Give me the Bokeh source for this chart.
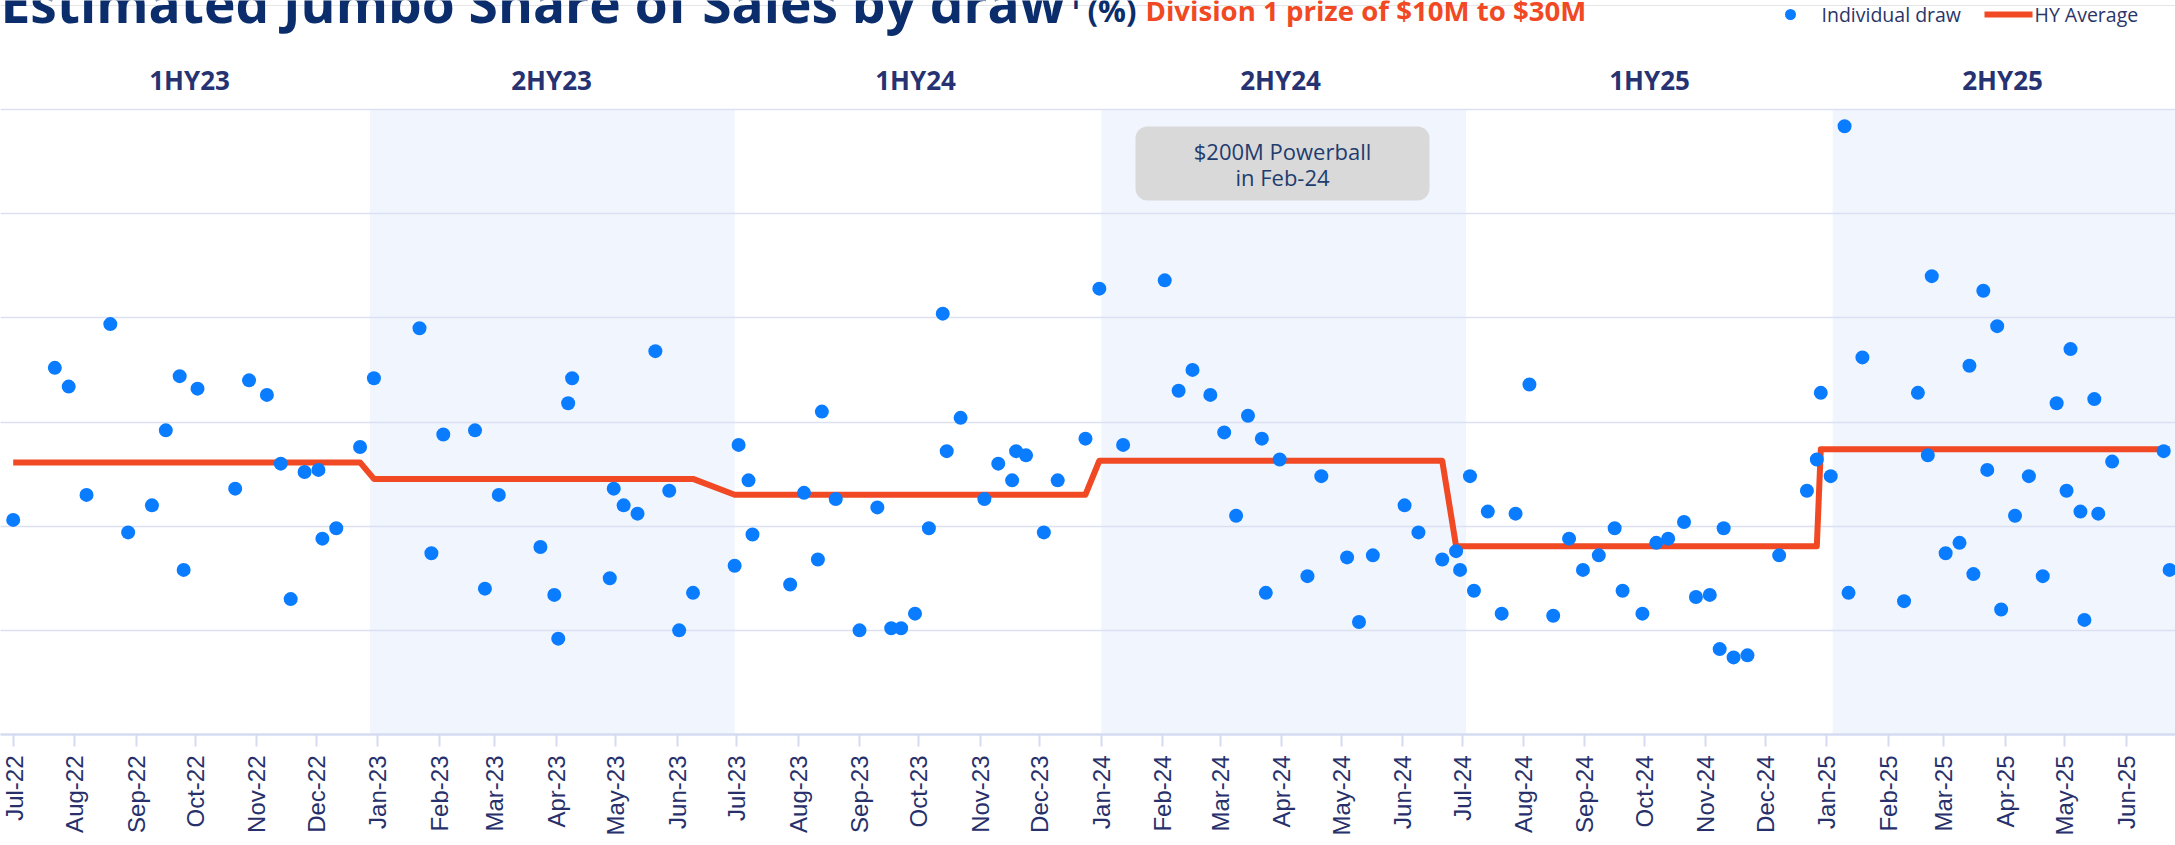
import numpy as np
import pandas as pd
from bokeh.plotting import figure
from bokeh.models import (Range1d, BoxAnnotation, Grid, FixedTicker, MonthsTicker,
                          DatetimeTickFormatter, ColumnDataSource)
from bokeh.core.properties import value
from bokeh.embed import file_html
from bokeh.resources import INLINE

# ---------------- data ----------------
draw_dates = [
    # 1HY23
    "2022-07-01", "2022-07-22", "2022-07-29", "2022-08-07", "2022-08-19", "2022-08-28", "2022-09-09",
    "2022-09-16", "2022-09-23", "2022-09-25", "2022-10-02", "2022-10-21", "2022-10-28", "2022-11-06",
    "2022-11-13", "2022-11-18", "2022-11-25", "2022-12-02", "2022-12-04", "2022-12-11", "2022-12-23",
    # 2HY23
    "2022-12-30", "2023-01-22", "2023-01-28", "2023-02-03", "2023-02-19", "2023-02-24", "2023-03-03",
    "2023-03-24", "2023-03-31", "2023-04-02", "2023-04-07", "2023-04-09", "2023-04-28", "2023-04-30",
    "2023-05-05", "2023-05-12", "2023-05-21", "2023-05-28", "2023-06-02", "2023-06-09",
    # 1HY24
    "2023-06-30", "2023-07-02", "2023-07-07", "2023-07-09", "2023-07-28", "2023-08-04", "2023-08-11",
    "2023-08-13", "2023-08-20", "2023-09-01", "2023-09-10", "2023-09-17", "2023-09-22", "2023-09-29",
    "2023-10-06", "2023-10-13", "2023-10-15", "2023-10-22", "2023-11-03", "2023-11-10", "2023-11-17",
    "2023-11-19", "2023-11-24", "2023-12-03", "2023-12-10", "2023-12-24",
    # 2HY24
    "2023-12-31", "2024-01-12", "2024-02-02", "2024-02-09", "2024-02-16", "2024-02-25", "2024-03-03",
    "2024-03-09", "2024-03-15", "2024-03-22", "2024-03-24", "2024-03-31", "2024-04-14", "2024-04-21",
    "2024-05-04", "2024-05-10", "2024-05-17", "2024-06-02", "2024-06-09", "2024-06-21",
    # 1HY25
    "2024-06-28", "2024-06-30", "2024-07-05", "2024-07-07", "2024-07-14", "2024-07-21", "2024-07-28",
    "2024-08-04", "2024-08-16", "2024-08-24", "2024-08-31", "2024-09-08", "2024-09-16", "2024-09-20",
    "2024-09-30", "2024-10-07", "2024-10-13", "2024-10-21", "2024-10-27", "2024-11-03", "2024-11-08",
    "2024-11-10", "2024-11-15", "2024-11-22", "2024-12-08", "2024-12-22", "2024-12-27",
    # 2HY25
    "2024-12-29", "2025-01-03", "2025-01-10", "2025-01-12", "2025-01-19", "2025-02-09", "2025-02-16",
    "2025-02-21", "2025-02-23", "2025-03-02", "2025-03-09", "2025-03-14", "2025-03-16", "2025-03-21",
    "2025-03-23", "2025-03-28", "2025-03-30", "2025-04-06", "2025-04-13", "2025-04-20", "2025-04-27",
    "2025-05-02", "2025-05-04", "2025-05-09", "2025-05-11", "2025-05-16", "2025-05-18", "2025-05-25",
    "2025-06-20", "2025-06-23",
]

draw_share = [
    # 1HY23
    10.3, 17.6, 16.7, 11.5, 19.7, 9.7, 11.0, 14.6, 17.2, 7.9, 16.6, 11.8, 17.0, 16.3, 13.0, 6.5,
    12.6, 12.7, 9.4, 9.9, 13.8,
    # 2HY23
    17.1, 19.5, 8.7, 14.4, 14.6, 7.0, 11.5, 9.0, 6.7, 4.6, 15.9, 17.1, 7.5, 11.8, 11.0, 10.6,
    18.4, 11.7, 5.0, 6.8,
    # 1HY24
    8.1, 13.9, 12.2, 9.6, 7.2, 11.6, 8.4, 15.5, 11.3, 5.0, 10.9, 5.1, 5.1, 5.8, 9.9, 20.2, 13.6,
    15.2, 11.3, 13.0, 12.2, 13.6, 13.4, 9.7, 12.2, 14.2,
    # 2HY24
    21.4, 13.9, 21.8, 16.5, 17.5, 16.3, 14.5, 10.5, 15.3, 14.2, 6.8, 13.2, 7.6, 12.4, 8.5, 5.4,
    8.6, 11.0, 9.7, 8.4,
    # 1HY25
    8.8, 7.9, 12.4, 6.9, 10.7, 5.8, 10.6, 16.8, 5.7, 9.4, 7.9, 8.6, 9.9, 6.9, 5.8, 9.2, 9.4, 10.2,
    6.6, 6.7, 4.1, 9.9, 3.7, 3.8, 8.6, 11.7, 13.2,
    # 2HY25
    16.4, 12.4, 29.2, 6.8, 18.1, 6.4, 16.4, 13.4, 22.0, 8.7, 9.2, 17.7, 7.7, 21.3, 12.7, 19.6,
    6.0, 10.5, 12.4, 7.6, 15.9, 11.7, 18.5, 10.7, 5.5, 16.1, 10.6, 13.1, 13.6, 7.9,
]

hy_labels = ["1HY23", "2HY23", "1HY24", "2HY24", "1HY25", "2HY25"]
hy_draw_counts = [21, 20, 26, 20, 27, 30]
hy_average = [13.06, 12.27, 11.51, 13.14, 9.04, 13.69]

shaded_periods = [("2022-12-28", "2023-06-30"), ("2024-01-01", "2024-07-03"), ("2025-01-04", None)]

# ---------------- layout helpers (page pixels; canvas starts at page 0,0) ----------------
W, H = 2175, 845
AXIS_PAGE_Y = 734
BOTTOM = H - AXIS_PAGE_Y
PX_PER_DAY = 1.982
PX_PER_UNIT = 20.833
t0 = pd.Timestamp("2022-07-01") - pd.Timedelta(days=12.7 / PX_PER_DAY)
t1 = t0 + pd.Timedelta(days=W / PX_PER_DAY)
y_top = AXIS_PAGE_Y / PX_PER_UNIT


def px_x(px):
    return t0 + pd.Timedelta(days=px / PX_PER_DAY)


def px_y(py):
    return (AXIS_PAGE_Y - py) / PX_PER_UNIT


def ms(t):
    return pd.Timestamp(t).value / 1e6


NAVY = "#0b2d6b"
LABEL_NAVY = "#27306b"
BLUE = "#0a7cff"
RED = "#f04923"

# ---------------- derived table ----------------
dates = pd.to_datetime(draw_dates)
half = np.repeat(hy_labels, hy_draw_counts)
avg_map = dict(zip(hy_labels, hy_average))
src = ColumnDataSource(dict(date=dates, share=draw_share, half=half,
                            avg=[avg_map[h] for h in half]))

p = figure(width=W, height=H, x_axis_type="datetime", y_axis_location=None,
           x_range=Range1d(ms(t0), ms(t1)), y_range=Range1d(0, y_top),
           output_backend="svg", toolbar_location=None,
           min_border_left=0, min_border_right=0, min_border_top=0, min_border_bottom=BOTTOM)
p.outline_line_color = None
p.background_fill_color = "white"
p.border_fill_color = "white"
p.xgrid.visible = False

# shaded 2nd-half bands
for s, e in shaded_periods:
    p.add_layout(BoxAnnotation(left=ms(s), right=ms(e) if e else ms(t1), bottom=0, top=30,
                               fill_color="#f0f5fe", fill_alpha=1.0, line_color=None, level="image"))

p.add_layout(Grid(dimension=1, ticker=FixedTicker(ticks=[5, 10, 15, 20, 25, 30]),
                  grid_line_color="#dbe1f3", grid_line_width=1.6))

# x axis
ax = p.xaxis[0]
ax.ticker = MonthsTicker(months=list(range(12)))
ax.formatter = DatetimeTickFormatter(days="%b-%y", months="%b-%y", years="%b-%y")
ax.major_label_orientation = np.pi / 2
ax.major_label_text_font = "Liberation Sans"
ax.major_label_text_font_size = "24px"
ax.major_label_text_color = LABEL_NAVY
ax.axis_line_color = "#d5dcf2"
ax.axis_line_width = 2.5
ax.major_tick_line_color = "#d5dcf2"
ax.major_tick_line_width = 2
ax.major_tick_in = 0
ax.major_tick_out = 12
ax.minor_tick_line_color = None
ax.major_label_standoff = 9

# annotation box
p.add_layout(BoxAnnotation(left=ms(px_x(1135)), right=ms(px_x(1429)), top=px_y(126), bottom=px_y(200),
                           fill_color="#d9d9d9", fill_alpha=1.0, line_color=None,
                           border_radius=12, level="underlay"))
p.text(x=[px_x(1282), px_x(1282)], y=[px_y(150), px_y(176)],
       text=["$200M Powerball", "in Feb-24"], text_font=value("Open Sans"),
       text_font_size=value("22px"), text_color="#1f3c6e",
       text_align=value("center"), text_baseline=value("middle"))

# data
p.line(x="date", y="avg", source=src, line_color=RED, line_width=6, line_join="round")
p.scatter(x="date", y="share", source=src, size=14, fill_color=BLUE, line_color=None)

# half-year labels (centred over each half-year column)
hy_label_px = [189, 551, 915, 1280, 1649, 2002]
p.text(x=[px_x(v) for v in hy_label_px], y=[px_y(79)] * len(hy_labels), text=hy_labels,
       text_font=value("Open Sans"), text_font_size=value("26px"), text_font_style=value("bold"),
       text_color="#263272", text_align=value("center"), text_baseline=value("middle"))

# title (partly cut off at the top as in the original)
title_style = dict(text_font=value("Open Sans"), text_font_style=value("bold"),
                   text_align=value("left"), text_baseline=value("middle"))
p.text(x=[px_x(0)], y=[px_y(2)], text=["Estimated Jumbo Share of Sales by draw"],
       text_font_size=value("53.3px"), text_color=NAVY, **title_style)
p.text(x=[px_x(1068)], y=[px_y(1)], text=["1"],
       text_font_size=value("22px"), text_color=NAVY, **title_style)
p.text(x=[px_x(1087)], y=[px_y(9)], text=["(%)"],
       text_font_size=value("31px"), text_color=NAVY, **title_style)
p.text(x=[px_x(1145)], y=[px_y(9)], text=["Division 1 prize of $10M to $30M"],
       text_font_size=value("27.6px"), text_color=RED, **title_style)

# legend
p.scatter(x=[px_x(1790)], y=[px_y(14)], size=11, fill_color=BLUE, line_color=None)
p.text(x=[px_x(1821)], y=[px_y(14)], text=["Individual draw"], text_font=value("Open Sans"),
       text_font_size=value("19.5px"), text_color="#2b3568",
       text_align=value("left"), text_baseline=value("middle"))
p.line(x=[px_x(1984), px_x(2032)], y=[px_y(14), px_y(14)], line_color=RED, line_width=6)
p.text(x=[px_x(2034)], y=[px_y(14)], text=["HY Average"], text_font=value("Open Sans"),
       text_font_size=value("19.5px"), text_color="#2b3568",
       text_align=value("left"), text_baseline=value("middle"))

open("out.html", "w").write(file_html(p, INLINE))
